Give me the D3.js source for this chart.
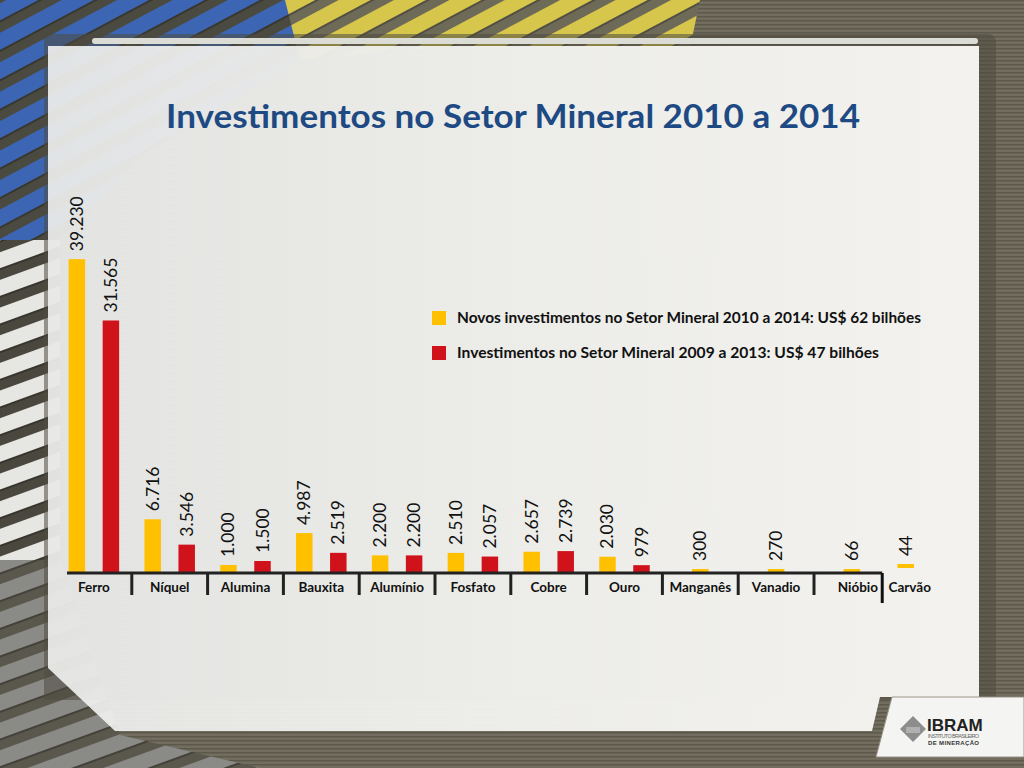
<!DOCTYPE html>
<html><head><meta charset="utf-8">
<script src="https://cdn.jsdelivr.net/npm/d3@7"></script>
<style>html,body{margin:0;padding:0;overflow:hidden;background:#6d685a}</style>
</head><body><svg id="c" width="1024" height="768"></svg>
<script>
// ---------- DATA ----------
const categories = ["Ferro","Níquel","Alumina","Bauxita","Alumínio","Fosfato","Cobre","Ouro","Manganês","Vanadio","Nióbio","Carvão"];
const novos      = [39230, 6716, 1000, 4987, 2200, 2510, 2657, 2030, 300, 270, 66, 44];
const anteriores = [31565, 3546, 1500, 2519, 2200, 2057, 2739, 979, null, null, null, null];
const seriesKeys = ["novos","anteriores"];
const seriesLabels = ["Novos investimentos no Setor Mineral 2010 a 2014: US$ 62 bilhões",
                      "Investimentos no Setor Mineral 2009 a 2013: US$ 47 bilhões"];
const seriesColors = ["#FFC000","#D0121B"];
const titleText = "Investimentos no Setor Mineral 2010 a 2014";
const logoName = "IBRAM", logoLine1 = "INSTITUTO BRASILEIRO", logoLine2 = "DE MINERAÇÃO";
const outsideCategory = "Carvão"; // drawn beyond the end of the axis in the original

// ---------- SETUP ----------
const svg = d3.select("#c");
const W = 1024, H = 768;
const defs = svg.append("defs");
const fmt = d3.formatLocale({decimal:",", thousands:".", grouping:[3], currency:["US$",""]}).format(",d");

// background texture
const bgPat = defs.append("pattern").attr("id","bgLines").attr("patternUnits","userSpaceOnUse")
  .attr("width",8).attr("height",4);
bgPat.append("rect").attr("width",8).attr("height",4).attr("fill","#726d5e");
bgPat.append("rect").attr("width",8).attr("height",1.5).attr("fill","#5c584b");

function stripePattern(id, color, gap, angle){
  const p = defs.append("pattern").attr("id",id).attr("patternUnits","userSpaceOnUse")
    .attr("width",40).attr("height",26).attr("patternTransform",`rotate(${angle})`);
  p.append("rect").attr("width",40).attr("height",26).attr("fill",gap);
  p.append("rect").attr("y",3).attr("width",40).attr("height",15).attr("fill",color);
  p.append("rect").attr("y",18).attr("width",40).attr("height",2).attr("fill","rgba(0,0,0,0.25)");
}
stripePattern("blueStripes","#3c66b4","#4b4a40",-28);
stripePattern("yellowStripes","#d6c64c","#6e6a58",-28);
stripePattern("whiteStripes","#e6e6e2","#4a473e",-20);
stripePattern("grayStripes","#8a8a86","#5a574c",-20);

svg.append("rect").attr("width",W).attr("height",H).attr("fill","url(#bgLines)");

// decorative stripes
svg.append("path").attr("d","M0,0 L330,0 L300,60 L150,150 L60,240 L0,240 Z").attr("fill","url(#blueStripes)");
svg.append("path").attr("d","M285,0 L700,0 L690,48 L430,48 L300,60 Z").attr("fill","url(#yellowStripes)");
svg.append("path").attr("d","M0,240 L60,240 L60,560 L0,560 Z").attr("fill","url(#whiteStripes)");
svg.append("path").attr("d","M0,560 L60,560 L120,735 L260,768 L0,768 Z").attr("fill","url(#grayStripes)");

// panel
const panelGrad = defs.append("linearGradient").attr("id","panelGrad").attr("x1","0").attr("x2","1").attr("y1","0").attr("y2","0");
panelGrad.append("stop").attr("offset","0").attr("stop-color","#f2f3f2").attr("stop-opacity",0.9);
panelGrad.append("stop").attr("offset","0.5").attr("stop-color","#f4f4f1").attr("stop-opacity",0.95);
panelGrad.append("stop").attr("offset","1").attr("stop-color","#f3f2ee").attr("stop-opacity",1);
// shadow frame
svg.append("path").attr("d","M44,34 L988,34 Q996,34 996,44 L996,700 L44,700 Z").attr("fill","#4e4a40").attr("opacity",0.55);
svg.append("path").attr("d","M48,46 L979,46 L979,697 L880,697 L872,731 L115,731 L48,668 Z").attr("fill","url(#panelGrad)");
svg.append("rect").attr("x",92).attr("y",38).attr("width",886).attr("height",6).attr("rx",3).attr("fill","#dcdcd6");

// logo tab
svg.append("path").attr("d","M892,697 L1024,697 L1024,757 L876,757 Z").attr("fill","#f4f4f2").attr("stroke","#9a968a").attr("stroke-width",1);

// ---------- TITLE ----------
svg.append("text").attr("x",513).attr("y",128).attr("text-anchor","middle")
  .attr("font-family","Lato, 'Open Sans', sans-serif").attr("font-weight","bold").attr("font-size",33)
  .attr("fill","#1E4A84").attr("textLength",694).attr("lengthAdjust","spacingAndGlyphs").text(titleText);

// ---------- SCALES ----------
const x = d3.scaleBand().domain(categories).range([56, 56 + 75.8*categories.length]).padding(0);
const x1 = d3.scaleBand().domain(seriesKeys).range([0, x.bandwidth()]).paddingInner(0.515).paddingOuter(0.372);
const y = d3.scaleLinear().domain([0, 40000]).range([573, 253]);
const outsideShift = -22, outsideLift = 5;

const rows = categories.map((c,i)=>({cat:c, vals: seriesKeys.map((k,j)=>({key:k, color:seriesColors[j], v: j===0?novos[i]:anteriores[i]})).filter(d=>d.v!=null)}));

const marks = [];
rows.forEach(r=>{
  const shift = r.cat===outsideCategory ? outsideShift : 0;
  const lift = r.cat===outsideCategory ? outsideLift : 0;
  r.vals.forEach(d=>{
    const bw = x1.bandwidth();
    const cx = r.vals.length===1 ? x(r.cat)+x.bandwidth()/2 + shift : x(r.cat)+x1(d.key)+bw/2 + shift;
    const top = Math.min(y(d.v), y(0)-4) - lift;
    marks.push({cat:r.cat, color:d.color, v:d.v, cx, bw, top, bottom:y(0)-lift});
  });
});

const g = svg.append("g");
g.selectAll("rect.bar").data(marks).join("rect").attr("class","bar")
  .attr("x",d=>d.cx-d.bw/2).attr("width",d=>d.bw)
  .attr("y",d=>d.top).attr("height",d=>d.bottom-d.top).attr("fill",d=>d.color);

g.selectAll("text.val").data(marks).join("text").attr("class","val")
  .attr("transform",d=>`translate(${d.cx+6},${d.top-8}) rotate(-90)`)
  .attr("font-family","Lato, 'Open Sans', sans-serif").attr("font-size",17.5).attr("fill","#111")
  .text(d=>fmt(d.v));

// ---------- AXIS ----------
const axisStart = x(categories[0]) + 11;
const lastInside = categories[categories.length-2];
const axisEnd = x(lastInside) + x.bandwidth()*0.9;
g.append("line").attr("x1",axisStart).attr("x2",axisEnd).attr("y1",y(0)).attr("y2",y(0))
  .attr("stroke","#222").attr("stroke-width",3);
const tickCats = categories.slice(1, categories.length-1);
g.selectAll("line.tick").data(tickCats).join("line").attr("class","tick")
  .attr("x1",d=>x(d)).attr("x2",d=>x(d)).attr("y1",y(0)).attr("y2",y(0)+22)
  .attr("stroke","#222").attr("stroke-width",3);
g.append("line").attr("x1",axisEnd).attr("x2",axisEnd).attr("y1",y(0)).attr("y2",y(0)+30)
  .attr("stroke","#111").attr("stroke-width",3);

g.selectAll("text.cat").data(categories).join("text").attr("class","cat")
  .attr("x",d=>x(d)+x.bandwidth()/2 + (d===outsideCategory?outsideShift+4:0) + (d===lastInside?6:0))
  .attr("y",y(0)+19).attr("text-anchor","middle")
  .attr("font-family","Lato, 'Open Sans', sans-serif").attr("font-weight","bold").attr("font-size",13.5)
  .attr("fill","#111").text(d=>d);

// ---------- LEGEND ----------
const leg = svg.append("g").attr("transform","translate(432,311)");
const li = leg.selectAll("g").data(seriesLabels).join("g").attr("transform",(d,i)=>`translate(0,${i*35})`);
li.append("rect").attr("width",14).attr("height",14).attr("fill",(d,i)=>seriesColors[i]);
li.append("text").attr("x",25).attr("y",12).attr("font-family","Lato, 'Open Sans', sans-serif")
  .attr("font-weight","bold").attr("font-size",14.5).attr("fill","#111")
  .attr("textLength",(d,i)=>i===0?464:422).attr("lengthAdjust","spacingAndGlyphs").text(d=>d);

// ---------- LOGO ----------
const logo = svg.append("g").attr("transform","translate(913,729)");
logo.append("path").attr("d","M0,-13 L13,0 L0,13 L-13,0 Z").attr("fill","#8d8d8d");
logo.append("path").attr("d","M-7,-2 L7,-2 L7,4 L-7,4 Z").attr("fill","#b0b0b0");
logo.append("text").attr("x",14).attr("y",2).attr("font-family","'Liberation Sans', Arial, sans-serif")
  .attr("font-weight","bold").attr("font-size",17).attr("fill","#222").text(logoName);
logo.append("text").attr("x",15).attr("y",9).attr("font-family","'Liberation Sans', Arial, sans-serif")
  .attr("font-size",5.5).attr("fill","#666").attr("textLength",51).text(logoLine1);
logo.append("text").attr("x",15).attr("y",16).attr("font-family","'Liberation Sans', Arial, sans-serif")
  .attr("font-weight","bold").attr("font-size",6).attr("fill","#333").attr("textLength",51).text(logoLine2);
</script></body></html>
